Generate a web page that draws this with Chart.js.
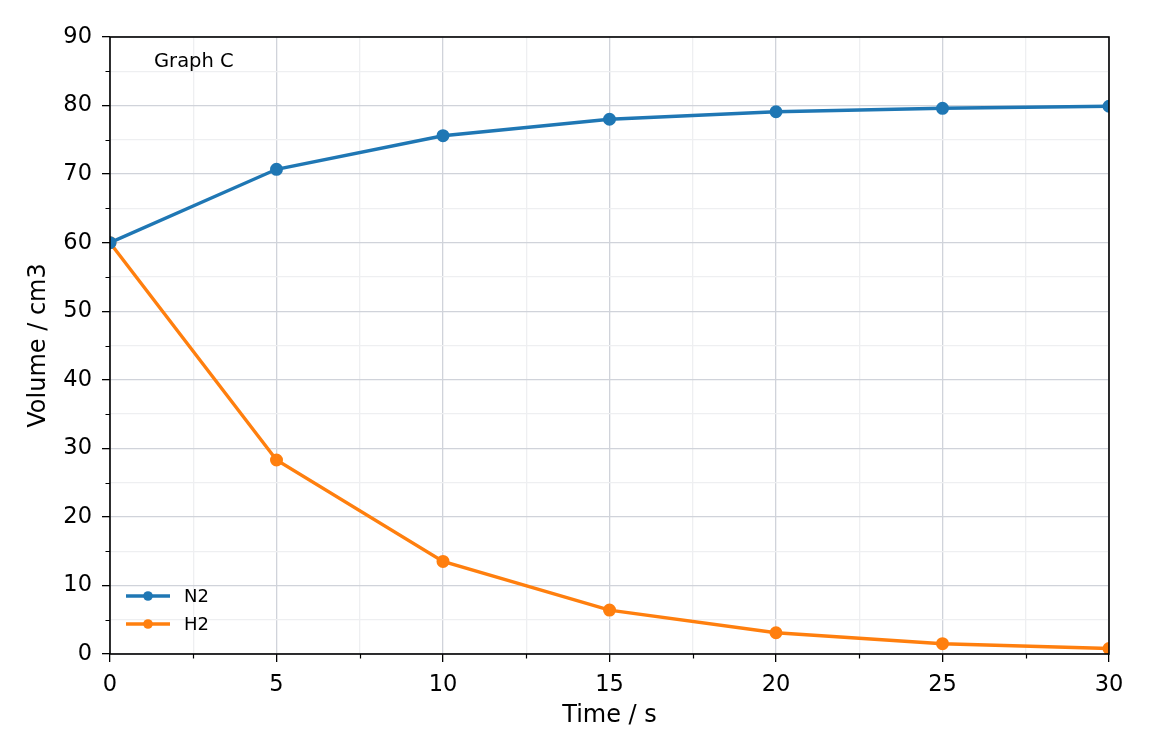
<!DOCTYPE html>
<html>
<head>
<meta charset="utf-8">
<script src="https://cdn.jsdelivr.net/npm/chart.js@4/dist/chart.umd.min.js"></script>
<style>
  html, body { margin: 0; padding: 0; background: #fff; }
  #wrap { width: 1152px; height: 756px; }
</style>
</head>
<body>
<div id="wrap"><canvas id="myChart"></canvas></div>
<script>
const times = [0, 5, 10, 15, 20, 25, 30];
const n2 = [60.0, 70.7, 75.6, 78.0, 79.1, 79.6, 79.9];
const h2 = [60.0, 28.3, 13.5, 6.4, 3.1, 1.5, 0.8];
const seriesNames = ['N2', 'H2'];
const seriesColors = ['#1f77b4', '#ff7f0e'];
const xTitle = 'Time / s';
const yTitle = 'Volume / cm3';
const note = 'Graph C';

const FONT = "'DejaVu Sans', sans-serif";

function toPoints(xs, ys) {
  return xs.map((x, i) => ({ x: x, y: ys[i] }));
}

const isMajorX = (v) => v % 5 === 0;
const isMajorY = (v) => v % 10 === 0;

// frame, short minor ticks, note and the legend drawn inside the plot
const extras = {
  id: 'extras',
  afterDraw(chart) {
    const ctx = chart.ctx;
    const a = chart.chartArea;
    const xs = chart.scales.x, ys = chart.scales.y;
    ctx.save();

    ctx.strokeStyle = '#000';
    ctx.lineWidth = 1.2;
    ctx.beginPath();
    xs.ticks.forEach(t => {
      if (isMajorX(t.value)) return;
      const px = Math.round(xs.getPixelForValue(t.value)) + 0.5;
      ctx.moveTo(px, a.bottom);
      ctx.lineTo(px, a.bottom + 4.5);
    });
    ys.ticks.forEach(t => {
      if (isMajorY(t.value)) return;
      const py = Math.round(ys.getPixelForValue(t.value)) + 0.5;
      ctx.moveTo(a.left, py);
      ctx.lineTo(a.left - 4.5, py);
    });
    ctx.stroke();

    ctx.lineWidth = 1.6;
    ctx.strokeRect(a.left, a.top, a.right - a.left, a.bottom - a.top);

    ctx.fillStyle = '#000';
    ctx.font = '19.5px ' + FONT;
    ctx.textBaseline = 'middle';
    ctx.textAlign = 'left';
    ctx.fillText(note, a.left + 44, a.top + 25);

    seriesNames.forEach((name, i) => {
      const y = a.bottom - 58 + i * 28;
      ctx.strokeStyle = seriesColors[i];
      ctx.lineWidth = 3.4;
      ctx.beginPath();
      ctx.moveTo(a.left + 16, y);
      ctx.lineTo(a.left + 60, y);
      ctx.stroke();
      ctx.fillStyle = seriesColors[i];
      ctx.beginPath();
      ctx.arc(a.left + 38, y, 4.8, 0, Math.PI * 2);
      ctx.fill();
      ctx.fillStyle = '#000';
      ctx.font = '18px ' + FONT;
      ctx.fillText(name, a.left + 74, y + 1);
    });
    ctx.restore();
  }
};

const dsStyle = (i) => ({
  borderColor: seriesColors[i],
  backgroundColor: seriesColors[i],
  borderWidth: 3.4,
  pointRadius: 4.8,
  pointHoverRadius: 4.8,
  tension: 0
});

new Chart(document.getElementById('myChart'), {
  type: 'line',
  data: {
    datasets: [
      Object.assign({ label: seriesNames[0], data: toPoints(times, n2) }, dsStyle(0)),
      Object.assign({ label: seriesNames[1], data: toPoints(times, h2) }, dsStyle(1))
    ]
  },
  options: {
    responsive: true,
    maintainAspectRatio: false,
    animation: false,
    devicePixelRatio: 1,
    layout: { padding: { left: 0, top: 37, right: 43, bottom: 0 } },
    plugins: {
      legend: { display: false },
      tooltip: { enabled: false }
    },
    scales: {
      x: {
        type: 'linear',
        min: 0,
        max: 30,
        ticks: {
          stepSize: 2.5,
          autoSkip: false,
          maxRotation: 0,
          padding: 10,
          color: '#000',
          font: { family: FONT, size: 22.5 },
          callback: (v) => (isMajorX(v) ? String(v) : '')
        },
        grid: {
          color: (c) => (c.tick && isMajorX(c.tick.value) ? '#d0d3da' : '#eeeff1'),
          lineWidth: 1.3,
          tickColor: (c) => (c.tick && isMajorX(c.tick.value) ? '#000' : 'rgba(0,0,0,0)'),
          tickLength: 8,
          tickWidth: 1.3
        },
        border: { display: false },
        title: {
          display: true,
          text: xTitle,
          color: '#000',
          font: { family: FONT, size: 24 },
          padding: { top: 4, bottom: 26 }
        },
        afterFit: (s) => { s.height = 102; }
      },
      y: {
        min: 0,
        max: 90,
        ticks: {
          stepSize: 5,
          autoSkip: false,
          padding: 10,
          color: '#000',
          font: { family: FONT, size: 22.5 },
          callback: (v) => (isMajorY(v) ? String(v) : '')
        },
        grid: {
          color: (c) => (c.tick && isMajorY(c.tick.value) ? '#d0d3da' : '#eeeff1'),
          lineWidth: 1.3,
          tickColor: (c) => (c.tick && isMajorY(c.tick.value) ? '#000' : 'rgba(0,0,0,0)'),
          tickLength: 8,
          tickWidth: 1.3
        },
        border: { display: false },
        title: {
          display: true,
          text: yTitle,
          color: '#000',
          font: { family: FONT, size: 24 },
          padding: { top: 24, bottom: 0 }
        },
        afterFit: (s) => { s.width = 110; }
      }
    }
  },
  plugins: [extras]
});
</script>
</body>
</html>
